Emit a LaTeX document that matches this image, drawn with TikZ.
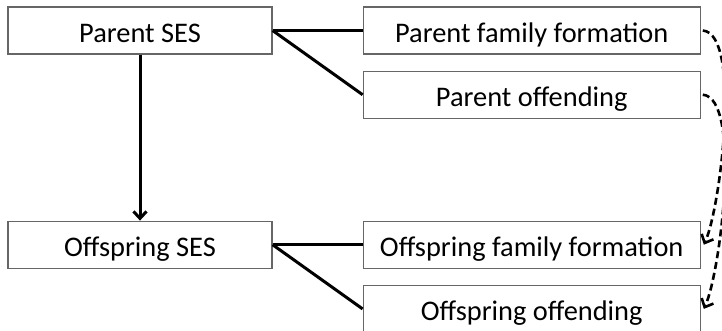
\documentclass[tikz,border=0pt]{standalone}
\usepackage{fontspec}
\setmainfont{Carlito}
\usetikzlibrary{arrows.meta,positioning}

\begin{document}
\begin{tikzpicture}
	[x=1bp,y=1bp,>={Straight Barb[length=7bp,width=13bp]},node distance=16bp,
		font=\fontsize{28.5}{34}\selectfont,
		ses node/.style={draw=black!60,line width=1.2bp,minimum width=264bp,minimum height=47bp,inner sep=0pt,text height=27bp,text depth=3bp},
		out node/.style={ses node,minimum width=337bp},
		link/.style={line width=3bp},
		carry/.style={->,line width=2.6bp,dash pattern=on 7bp off 4bp}]

	\useasboundingbox (0,0) rectangle (722,-330);

	\node[ses node]    (PS)     at (140,-30.5)  {Parent SES};
	\node[ses node]    (OS)     [below=166bp of PS]  {Offspring SES};
	\node[out node]    (PF)     [right=90bp of PS]  {Parent family formation};
	\node[out node]    (PO)     [below=of PF]  {Parent offending};
	\node[out node]    (OF)     [right=90bp of OS]  {Offspring family formation};
	\node[out node]    (OO)     [below=of OF]  {Offspring offending};

	\draw[link,->] (PS) -- (OS);
	\draw[link] (PS.east) -- (PF.west);
	\draw[link] (PS.east) -- (PO.west);
	\draw[link] (OS.east) -- (OF.west);
	\draw[link] (OS.east) -- (OO.west);

	\draw[carry] ([xshift=2bp]PF.east) to[out=-5,in=65,looseness=0.47] ([xshift=3bp]OF.east);
	\draw[carry] ([xshift=2bp]PO.east) to[out=-5,in=65,looseness=0.47] ([xshift=3bp]OO.east);

\end{tikzpicture}
\end{document}
